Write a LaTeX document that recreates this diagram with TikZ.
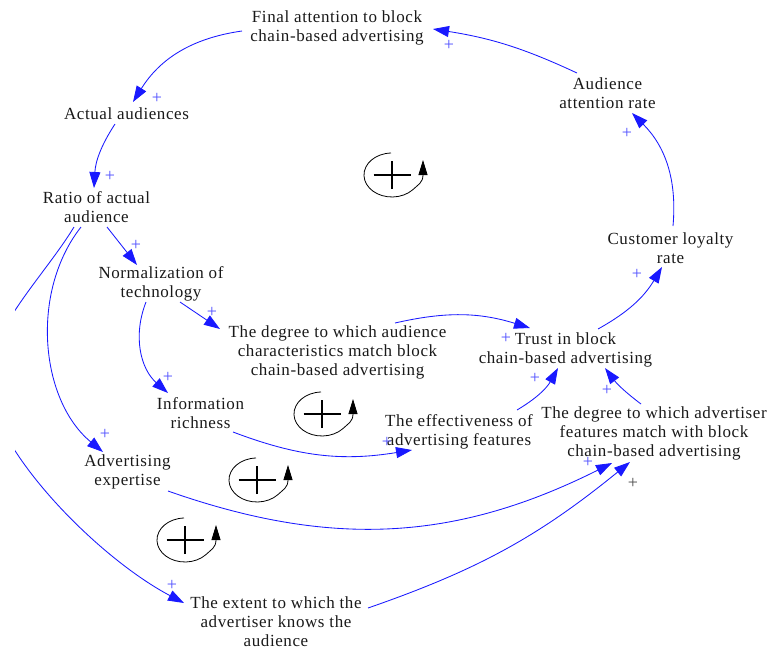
\documentclass[tikz,border=0pt]{standalone}
\usepackage{fontspec}
\setmainfont{Liberation Serif}[LetterSpace=3.5]
\usetikzlibrary{arrows.meta,calc}
\definecolor{linkblue}{RGB}{25,25,255}
\definecolor{signblue}{RGB}{80,80,255}
\definecolor{txt}{RGB}{25,25,25}
\tikzset{
  var/.style={align=center,inner sep=0pt,text=txt,font=\fontsize{17}{19}\selectfont},
  link/.style={draw=linkblue,line width=0.85pt,-{Triangle[length=16pt,width=11pt]}},
  sign/.style={text=signblue,inner sep=0pt,font=\fontsize{18}{18}\selectfont},
  graysign/.style={sign,text=black!70},
  loopsym/.pic={
    \draw[line width=1.9pt] (-18.5,0) -- (18.5,0) (0,-14) -- (0,14);
    \draw[line width=0.8pt,-{Triangle[length=15pt,width=9pt]}]
      (-1,22) arc[start angle=92,end angle=318,x radius=28,y radius=22]
      .. controls +(45:7) and (31,-8) .. (31,15);
  }
}
\begin{document}
\begin{tikzpicture}[x=1pt,y=1pt]
\useasboundingbox (0,-649) rectangle (770,0);

% variables
\node[var] (fin) at (337,-28) {Final attention to block\\chain-based advertising};
\node[var] (act) at (126.5,-114) {Actual audiences};
\node[var] (rat) at (96.5,-207.5) {Ratio of actual\\audience};
\node[var] (nor) at (161,-283.5) {Normalization of\\technology};
\node[var] (dac) at (337.5,-352) {The degree to which audience\\characteristics match block\\chain-based advertising};
\node[var] (tru) at (565.5,-350) {Trust in block\\chain-based advertising};
\node[var] (loy) at (670.5,-248.5) {Customer loyalty\\rate};
\node[var] (aar) at (607.5,-93.5) {Audience\\attention rate};
\node[var] (inf) at (200.5,-413.5) {Information\\richness};
\node[var] (eff) at (459,-432) {The effectiveness of\\advertising features};
\node[var] (dad) at (654,-433.5) {The degree to which advertiser\\features match with block\\chain-based advertising};
\node[var] (exp) at (127.5,-472) {Advertising\\expertise};
\node[var] (ext) at (276,-622) {The extent to which the\\advertiser knows the\\audience};

% causal links
\draw[link] ([shift={(-30.5,20.5)}]aar.center) to[bend right=8] ([shift={(96,-1)}]fin.center);
\draw[link] ([shift={(-95,-3)}]fin.center) to[bend right=25] ([shift={(6.5,12)}]act.center);
\draw[link] ([shift={(-11.5,-10)}]act.center) to[bend right=15] ([shift={(-2.5,19.5)}]rat.center);
\draw[link] ([shift={(10.5,-19.5)}]rat.center) -- ([shift={(-24,18.5)}]nor.center);
\draw[link] ([shift={(-15.5,-19.5)}]rat.center) .. controls (30,-292) and (40,-400) .. ([shift={(-24.5,20)}]exp.center);
\begin{scope}
  \clip (15,-649) rectangle (770,0);
  \draw[link] ([shift={(-22.5,-19.5)}]rat.center) .. controls (45,-275) and (-12,-330) .. (-12,-380)
    .. controls (-12,-445) and (95,-556) .. ([shift={(-92,19)}]ext.center);
\end{scope}
\draw[link] ([shift={(-15,-18.5)}]nor.center) to[bend right=35] ([shift={(-32.5,20.5)}]inf.center);
\draw[link] ([shift={(19,-18.5)}]nor.center) -- ([shift={(-117.5,23)}]dac.center);
\draw[link] ([shift={(57.5,29)}]dac.center) to[bend left=15] ([shift={(-35.5,22)}]tru.center);
\draw[link] ([shift={(32.5,21)}]tru.center) to[bend right=15] ([shift={(-8.5,-18.5)}]loy.center);
\draw[link] ([shift={(2.5,22.5)}]loy.center) to[bend right=25] ([shift={(24.5,-19.5)}]aar.center);
\draw[link] ([shift={(32.5,-18.5)}]inf.center) to[bend right=15] ([shift={(-47,-18)}]eff.center);
\draw[link] ([shift={(58,22)}]eff.center) to[bend right=15] ([shift={(-7.5,-18)}]tru.center);
\draw[link] ([shift={(-13,29.5)}]dad.center) to[bend left=8] ([shift={(39.5,-18)}]tru.center);
\draw[link] ([shift={(40.5,-19)}]exp.center) to[bend right=23] ([shift={(-42,-29.5)}]dad.center);
\draw[link] ([shift={(92,14)}]ext.center) to[bend right=10] ([shift={(-24,-28.5)}]dad.center);

% link polarities
\node[sign] (pa) at (449,-45) {+};
\node[sign] (pb) at (157,-98) {+};
\node[sign] (pc) at (110,-176) {+};
\node[sign] (pd) at (136,-245) {+};
\node[sign] (pe) at (105,-434) {+};
\node[sign] (pf) at (172,-585) {+};
\node[sign] (pg) at (168,-377) {+};
\node[sign] (ph) at (212,-312) {+};
\node[sign] (pi) at (506,-338) {+};
\node[sign] (pj) at (637,-274) {+};
\node[sign] (pk) at (627,-133) {+};
\node[sign] (pl) at (387,-442) {+};
\node[sign] (pm) at (535,-378) {+};
\node[sign] (pn) at (607,-390) {+};
\node[sign] (po) at (588,-462) {+};
\node[graysign] (pp) at (633,-483) {+};

% reinforcing loop markers
\pic at (392,-175) {loopsym};
\pic at (322,-414) {loopsym};
\pic at (257,-480) {loopsym};
\pic at (185,-540) {loopsym};
\end{tikzpicture}
\end{document}
